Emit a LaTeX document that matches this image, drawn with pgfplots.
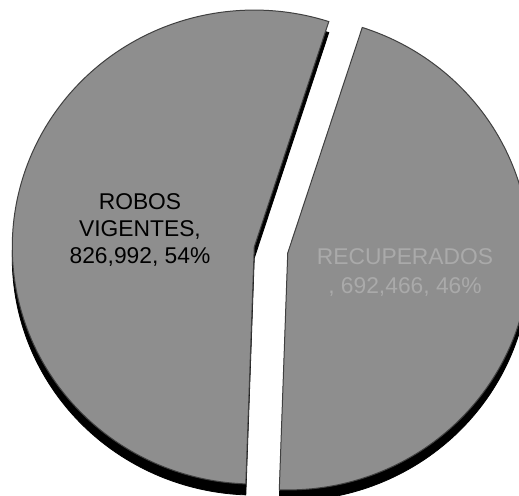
\documentclass[border=0pt]{standalone}
\usepackage{pgfplots}
\pgfplotsset{compat=1.18}
\usepackage{fontspec}
\setmainfont{Liberation Sans}
\definecolor{pie}{RGB}{142,142,142}
\definecolor{lbl}{RGB}{170,170,170}

\begin{document}
\begin{tikzpicture}
% data (thousands): robos vigentes 826,992 ; recuperados 692,466
\pgfmathsetmacro\fracA{826.992/(826.992+692.466)}
\pgfmathsetmacro\aEnd{268}
\pgfmathsetmacro\aSplit{\aEnd-360*\fracA}
\pgfmathsetmacro\bL{(\aSplit+\aEnd)/2}
\pgfmathsetmacro\bR{(\aSplit+\aEnd-360)/2}
% pie centre, explosion, radii (pixel units), depth
\def\cx{271}\def\cy{250}\def\ex{17}\def\rx{242}\def\ry{237}\def\dep{11}
\pgfmathsetmacro\cxL{\cx+\ex*cos(\bL)}
\pgfmathsetmacro\cyL{\cy-\ex*sin(\bL)}
\pgfmathsetmacro\cxR{\cx+\ex*cos(\bR)}
\pgfmathsetmacro\cyR{\cy-\ex*sin(\bR)}
\pgfmathsetmacro\cyLd{\cyL+\dep}
\pgfmathsetmacro\cyRd{\cyR+\dep}
\pgfmathsetmacro\aEndR{\aSplit+360-360}
\pgfmathsetmacro\aStartR{\aEnd-360}
\begin{axis}[
    width=259.5pt, height=248pt, scale only axis,
    xmin=0, xmax=519, ymin=0, ymax=496, y dir=reverse,
    hide axis, clip=true,
  ]
\coordinate (bl) at (rel axis cs:0,0);
\coordinate (tr) at (rel axis cs:1,1);
% side (depth)
\addplot[fill=black, draw=black, domain=\aSplit:\aEnd, samples=160, variable=\t]
  ({\cxL+\rx*cos(\t)},{\cyLd-\ry*sin(\t)}) -- (\cxL,\cyLd) -- cycle;
\addplot[fill=black, draw=black, domain=\aStartR:\aSplit, samples=140, variable=\t]
  ({\cxR+\rx*cos(\t)},{\cyRd-\ry*sin(\t)}) -- (\cxR,\cyRd) -- cycle;
% top faces
\addplot[fill=pie, draw=black!75, line width=0.5pt, domain=\aSplit:\aEnd, samples=160, variable=\t]
  ({\cxL+\rx*cos(\t)},{\cyL-\ry*sin(\t)}) -- (\cxL,\cyL) -- cycle;
\addplot[fill=pie, draw=black!75, line width=0.5pt, domain=\aStartR:\aSplit, samples=140, variable=\t]
  ({\cxR+\rx*cos(\t)},{\cyR-\ry*sin(\t)}) -- (\cxR,\cyR) -- cycle;
\node[align=center, text=black, font=\fontsize{11.4}{13.6}\selectfont] at (140,230)
  {ROBOS\\VIGENTES,\\826,992, 54\%};
\node[align=center, text=lbl, font=\fontsize{11.4}{14.4}\selectfont] at (405,272.5)
  {RECUPERADOS\\, 692,466, 46\%};
\end{axis}
\pgfresetboundingbox
\path[use as bounding box] (bl) rectangle (tr);
\end{tikzpicture}
\end{document}
